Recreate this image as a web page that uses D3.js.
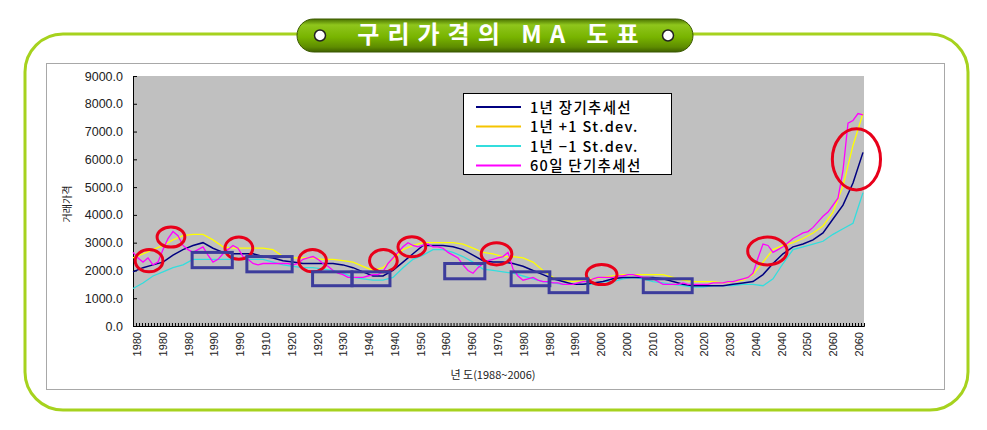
<!DOCTYPE html>
<html><head><meta charset="utf-8">
<script src="https://cdn.jsdelivr.net/npm/d3@7/dist/d3.min.js"></script>
<style>
body{margin:0;background:#fff;}
svg{display:block;font-family:"Liberation Sans",Arial,sans-serif;}
</style></head>
<body><svg id="c" width="987" height="430"></svg>
<script>
// ---------------- DATA ----------------
const title = "구리가격의 MA 도표";
const yTitle = "거래가격";
const xTitle = "년 도(1988~2006)";
const seriesNames = ["1년 장기추세선","1년 +1 St.dev.","1년 −1 St.dev.","60일 단기추세선"];
const xLabels = ["1980","1980","1980","1990","1990","1910","1920","1920","1930","1940",
  "1940","1950","1960","1960","1970","1980","1980","1990","2000","2000",
  "2010","2020","2020","2030","2040","2040","2050","2060","2060"];
const yTicks = [0,1000,2000,3000,4000,5000,6000,7000,8000,9000];

const longTrend = [1950,2100,2200,2300,2550,2750,2900,3000,2800,2650,
  2600,2600,2600,2500,2450,2350,2300,2250,2250,2250,
  2250,2200,2100,1950,1800,1800,2000,2300,2600,2900,
  2900,2900,2850,2750,2550,2350,2300,2300,2250,2150,
  2000,1850,1700,1600,1500,1500,1550,1600,1700,1750,
  1750,1750,1750,1700,1600,1500,1450,1450,1450,1450,
  1500,1550,1600,1850,2250,2600,2850,2950,3100,3350,
  3850,4350,5150,6250];
const plusStd = [2450,2600,2750,2900,3100,3250,3300,3300,3100,2850,
  2800,2800,2800,2800,2750,2500,2450,2450,2450,2400,
  2400,2350,2300,2150,2000,2100,2400,2750,2900,3000,
  3000,3000,3000,2950,2800,2650,2600,2500,2500,2450,
  2300,2000,1750,1650,1600,1650,1700,1750,1800,1850,
  1850,1850,1850,1850,1750,1650,1600,1600,1600,1550,
  1600,1650,1850,2300,2750,2900,3000,3150,3350,3600,
  4100,5050,6500,7650];
const minusStd = [1350,1550,1800,1950,2100,2200,2400,2400,2400,2400,
  2400,2400,2400,2400,2300,2200,2150,2100,2100,2050,
  2000,1900,1750,1700,1650,1650,1750,2100,2400,2550,
  2750,2750,2650,2500,2300,2050,2000,1950,1900,1800,
  1700,1600,1550,1500,1500,1500,1500,1600,1600,1700,
  1750,1700,1600,1550,1500,1450,1400,1400,1450,1450,
  1450,1500,1500,1450,1700,2250,2750,2850,2950,3050,
  3300,3500,3700,4800];
const shortTrend = [2650,2450,2300,2450,2200,2300,2750,3150,3400,3250,
  2900,2750,2650,2750,2850,2550,2300,2400,2600,2750,
  2900,2800,2500,2400,2250,2200,2250,2250,2250,2250,
  2250,2250,2200,2250,2400,2450,2500,2400,2250,2150,
  2000,1900,1850,1750,1750,1750,1750,1800,1850,1850,
  1950,2250,2450,2650,2850,3000,2900,2850,2900,2950,
  2850,2850,2800,2650,2550,2450,2200,2000,1900,2100,
  2250,2350,2400,2450,2500,2650,2050,1800,1650,1700,
  1750,1650,1600,1600,1550,1550,1500,1500,1500,1550,
  1600,1600,1700,1750,1750,1750,1750,1800,1800,1850,
  1850,1800,1750,1750,1700,1600,1500,1500,1500,1500,
  1550,1500,1500,1500,1500,1500,1550,1550,1550,1600,
  1600,1650,1700,1750,1900,2450,2950,2900,2650,2750,
  2850,3000,3150,3250,3350,3400,3550,3750,3950,4100,
  4350,4600,5600,7300,7400,7650,7600];

// annotation marks in data units: [position 0..1 along time axis, value, half-width 0..1, half-height value]
const redCircles = [[0.022,2350,0.019,400],[0.052,3200,0.019,360],[0.145,2800,0.019,400],
  [0.246,2350,0.019,400],[0.343,2350,0.019,400],[0.382,2850,0.019,360],
  [0.498,2600,0.021,400],[0.642,1850,0.021,360],[0.869,2700,0.027,500],[0.991,6000,0.033,1100]];
const blueRects = [[0.081,0.136,2650,2100],[0.156,0.218,2500,1950],[0.246,0.300,1950,1450],
  [0.300,0.352,1950,1450],[0.427,0.482,2250,1700],[0.518,0.571,1950,1450],
  [0.570,0.623,1700,1200],[0.699,0.766,1700,1200]];

// ---------------- LAYOUT ----------------
const svg = d3.select("#c");
const plot = {l:133, r:864, t:76, b:326};
const colors = ["#000080","#ffff00","#33dddd","#ff00ff"];
const kr = "'Noto Sans CJK KR',sans-serif";

const defs = svg.append("defs");
const g1 = defs.append("linearGradient").attr("id","pill").attr("x1",0).attr("y1",0).attr("x2",0).attr("y2",1);
[["0%","#4a7200"],["18%","#8fc61c"],["55%","#78b400"],["85%","#5e8c00"],["100%","#3f6000"]]
  .forEach(s=>g1.append("stop").attr("offset",s[0]).attr("stop-color",s[1]));

// outer frame
svg.append("rect").attr("x",25).attr("y",34).attr("width",943).attr("height",376)
  .attr("rx",38).attr("fill","#fff").attr("stroke","#a6d21e").attr("stroke-width",3);
// inner chart area
svg.append("rect").attr("x",46.5).attr("y",63.5).attr("width",898).attr("height",326)
  .attr("fill","#fff").attr("stroke","#a8a8a8").attr("stroke-width",1);

// title pill
svg.append("rect").attr("x",297).attr("y",19).attr("width",396).attr("height",33).attr("rx",16.5)
  .attr("fill","url(#pill)").attr("stroke","#3a5800").attr("stroke-width",1);
[320,668].forEach(cx=>svg.append("circle").attr("cx",cx).attr("cy",35.5).attr("r",5.5)
  .attr("fill","#fff").attr("stroke","#222").attr("stroke-width",1.5));
svg.append("text").attr("x",502).attr("y",43).attr("text-anchor","middle")
  .attr("font-family",kr).attr("font-weight","bold")
  .attr("font-size",24).attr("letter-spacing",8).attr("fill","#fff").text(title);

// scales
const x = d3.scaleLinear().domain([0,1]).range([plot.l, plot.r-1]);
const y = d3.scaleLinear().domain([0,9000]).range([plot.b, plot.t]);
const xl = d3.scalePoint().domain(d3.range(xLabels.length)).range([137,859]);
const xt = d3.scaleLinear().domain([0,244]).range([plot.l, plot.r]);

svg.append("rect").attr("x",plot.l).attr("y",plot.t).attr("width",plot.r-plot.l).attr("height",plot.b-plot.t)
  .attr("fill","#c0c0c0");

// y axis
const yAx = svg.append("g").attr("transform",`translate(${plot.l},0)`)
  .call(d3.axisLeft(y).tickValues(yTicks).tickSize(-4).tickPadding(10).tickFormat(d3.format(".1f")));
yAx.select(".domain").attr("stroke","#000");
yAx.selectAll(".tick line").attr("stroke","#000");
yAx.selectAll("text").attr("font-size",12.5).attr("fill","#222");

// x axis minor ticks
const xAx = svg.append("g").attr("transform",`translate(0,${plot.b})`)
  .call(d3.axisBottom(xt).tickValues(d3.range(0,245)).tickSize(-3).tickFormat(""));
xAx.select(".domain").attr("stroke","#000");
xAx.selectAll(".tick line").attr("stroke","#000");

// x labels
svg.append("g").selectAll("text").data(xLabels).join("text")
  .attr("transform",(d,i)=>`translate(${xl(i)+4},332) rotate(-90)`)
  .attr("text-anchor","end").attr("font-size",11).attr("fill","#222").text(d=>d);

// lines
const series = [longTrend, plusStd, minusStd, shortTrend];
[2,1,0,3].forEach(k=>{
  const arr = series[k];
  const line = d3.line().x((d,i)=>x(i/(arr.length-1))).y(d=>y(d));
  svg.append("path").datum(arr).attr("d",line).attr("fill","none")
    .attr("stroke",colors[k]).attr("stroke-width",k===0?1.5:1.3);
});

// annotations
const sx = x(1)-x(0), sy = y(0)-y(1);
svg.append("g").selectAll("ellipse").data(redCircles).join("ellipse")
  .attr("cx",d=>x(d[0])).attr("cy",d=>y(d[1])).attr("rx",d=>d[2]*sx).attr("ry",d=>d[3]*sy)
  .attr("fill","none").attr("stroke","#e8001a").attr("stroke-width",3);
svg.append("g").selectAll("rect").data(blueRects).join("rect")
  .attr("x",d=>x(d[0])).attr("y",d=>y(d[2])).attr("width",d=>x(d[1])-x(d[0])).attr("height",d=>y(d[3])-y(d[2]))
  .attr("fill","none").attr("stroke","#3c3c9c").attr("stroke-width",3);

// legend
const lg = svg.append("g");
lg.append("rect").attr("x",463.5).attr("y",93.5).attr("width",208).attr("height",81)
  .attr("fill","#fff").attr("stroke","#000");
seriesNames.forEach((n,i)=>{
  const yy = 107 + i*19.5;
  lg.append("line").attr("x1",476).attr("x2",521).attr("y1",yy).attr("y2",yy)
    .attr("stroke",colors[i]==="#ffff00"?"#f5c400":colors[i]).attr("stroke-width",2);
  lg.append("text").attr("x",530).attr("y",yy+5.5).attr("font-size",14.5).attr("letter-spacing",1.3)
    .attr("font-weight",500).attr("font-family",kr).attr("fill","#000").text(n);
});

// axis titles
svg.append("text").attr("transform","translate(71,204) rotate(-90)").attr("text-anchor","middle")
  .attr("font-family",kr).attr("font-size",10).attr("fill","#222").text(yTitle);
svg.append("text").attr("x",493).attr("y",379).attr("text-anchor","middle")
  .attr("font-family",kr).attr("font-size",11).attr("fill","#222").text(xTitle);
</script></body></html>
